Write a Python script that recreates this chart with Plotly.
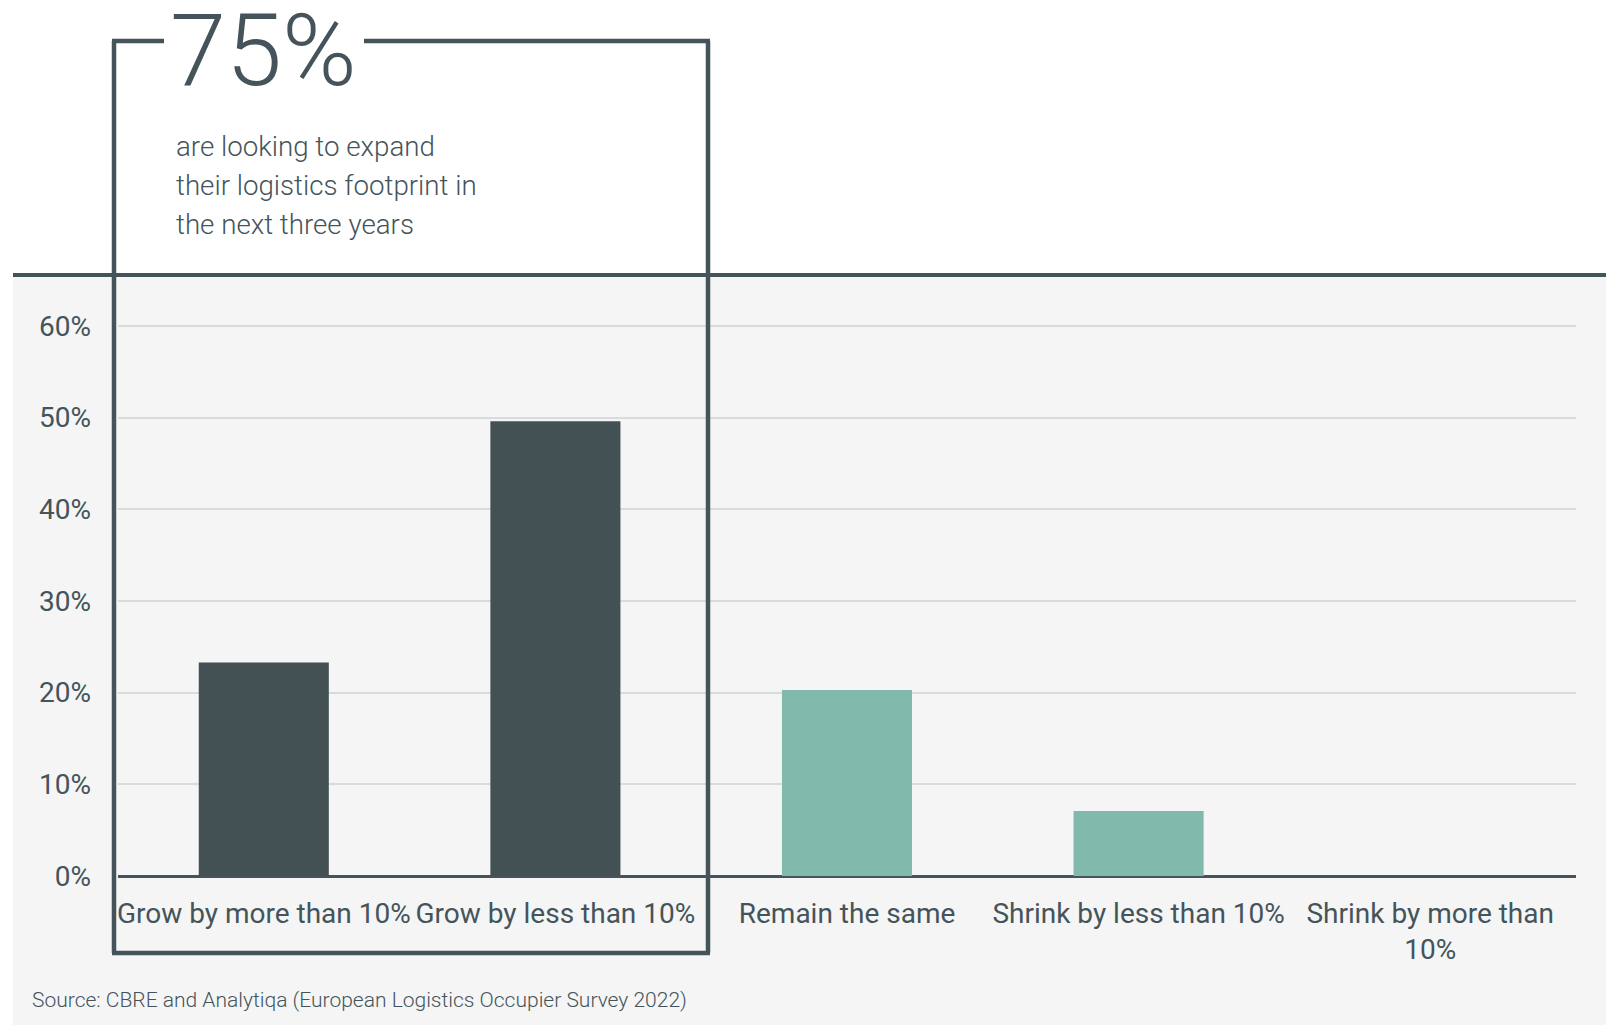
import plotly.graph_objects as go

# Survey responses: expected change in logistics footprint over the next three years
categories = [
    "Grow by more than 10%",
    "Grow by less than 10%",
    "Remain the same",
    "Shrink by less than 10%",
    "Shrink by more than<br>10%",
]
shares = [23.3, 49.6, 20.3, 7.1, 0.0]
bar_colors = ["#435155", "#435155", "#81b9ac", "#81b9ac", "#81b9ac"]

y_ticks = [0, 10, 20, 30, 40, 50, 60]
y_tick_labels = [f"{v}%" for v in y_ticks]

headline = "75%"
subtitle_lines = [
    "are looking to expand",
    "their logistics footprint in",
    "the next three years",
]
source_note = "Source: CBRE and Analytiqa (European Logistics Occupier Survey 2022)"

# Page geometry (pixels)
W, H = 1608, 1025
ML, MR, MT, MB = 118, 32, 275, 149
DARK = "#44545a"
TEXT = "#44545a"


def px(x):
    return (x - ML) / (W - ML - MR)


def py(y):
    return (H - MB - y) / (H - MT - MB)


fig = go.Figure(
    go.Bar(
        x=categories,
        y=shares,
        marker=dict(color=bar_colors, line=dict(width=0)),
        hoverinfo="skip",
    )
)

shapes = [
    # grey panel behind the chart
    dict(type="rect", xref="paper", yref="paper", layer="below",
         x0=px(13), x1=px(1606), y0=py(276), y1=py(1025),
         fillcolor="#f5f5f5", line=dict(width=0)),
    # header rule
    dict(type="line", xref="paper", yref="paper", layer="above",
         x0=px(13), x1=px(1606), y0=py(275), y1=py(275),
         line=dict(color=DARK, width=4)),
]

# Callout frame around the "grow" categories, open at the top for the headline
box_l, box_r, box_t, box_b = 114, 708, 41, 953
for (x0, y0, x1, y1) in [
    (box_l, box_t, box_l, box_b),
    (box_r, box_t, box_r, box_b),
    (box_l - 2, box_b, box_r + 2, box_b),
    (box_l - 2, box_t, 164, box_t),
    (364, box_t, box_r + 2, box_t),
]:
    shapes.append(dict(type="line", xref="paper", yref="paper", layer="above",
                       x0=px(x0), x1=px(x1), y0=py(y0), y1=py(y1),
                       line=dict(color=DARK, width=4.5)))

annotations = [
    dict(text=headline, xref="paper", yref="paper", x=px(168), y=py(50),
         xanchor="left", yanchor="middle", showarrow=False,
         font=dict(family="Roboto", size=101, color=TEXT, weight=300)),
]
for i, line in enumerate(subtitle_lines):
    annotations.append(
        dict(text=line, xref="paper", yref="paper", x=px(174), y=py(147 + 38.5 * i),
             xanchor="left", yanchor="middle", showarrow=False,
             font=dict(family="Roboto", size=27.7, color=TEXT, weight=300)))
annotations.append(
    dict(text=source_note, xref="paper", yref="paper", x=px(30), y=py(1000),
         xanchor="left", yanchor="middle", showarrow=False,
         font=dict(family="Roboto", size=21, color=TEXT, weight=300)))

fig.update_layout(
    width=W,
    height=H,
    margin=dict(l=ML, r=MR, t=MT, b=MB, pad=0),
    paper_bgcolor="white",
    plot_bgcolor="rgba(0,0,0,0)",
    bargap=0.554,
    showlegend=False,
    shapes=shapes,
    annotations=annotations,
    font=dict(family="Roboto", color=TEXT),
    xaxis=dict(
        tickfont=dict(family="Roboto", size=28, color=TEXT),
        showgrid=False,
        ticks="",
        ticklabelstandoff=18,
        showline=False,
        fixedrange=True,
    ),
    yaxis=dict(
        range=[0, 65.56],
        tickmode="array",
        tickvals=y_ticks,
        ticktext=y_tick_labels,
        tickfont=dict(family="Roboto", size=28, color=TEXT),
        showgrid=True,
        gridcolor="#d6dbdb",
        gridwidth=1.5,
        zeroline=True,
        zerolinecolor=DARK,
        zerolinewidth=2.5,
        ticks="",
        ticklabelstandoff=26,
        showline=False,
        fixedrange=True,
    ),
)

fig.write_html("out.html")
